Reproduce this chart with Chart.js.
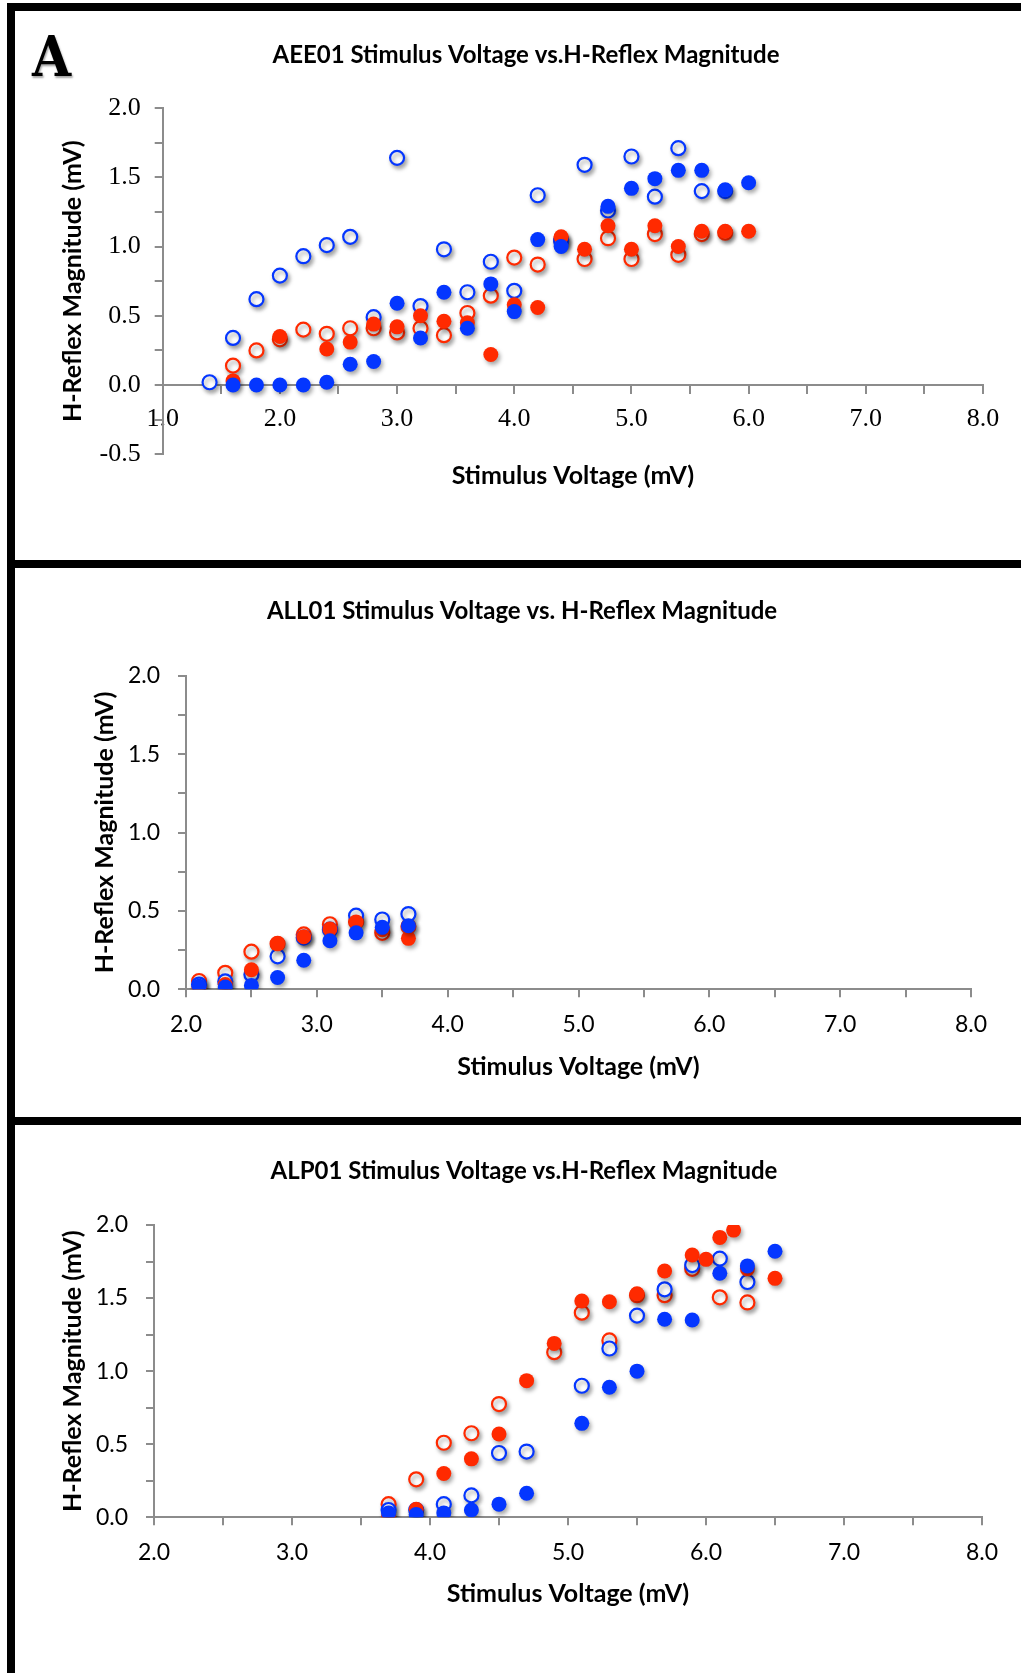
<!DOCTYPE html>
<html>
<head>
<meta charset="utf-8">
<script src="https://cdn.jsdelivr.net/npm/chart.js@4.4.1/dist/chart.umd.min.js"></script>
<style>
  html, body { margin: 0; padding: 0; background: #fff; }
  body { width: 1021px; height: 1673px; position: relative; overflow: hidden; }
  .bar { position: absolute; background: #000; }
  canvas { position: absolute; left: 0; }
  #letter {
    position: absolute; left: 32px; top: 28px;
    font-family: "DejaVu Serif Condensed", "DejaVu Serif", serif;
    font-weight: bold; font-size: 56px; line-height: 1;
    transform: scaleX(1.0); transform-origin: left top;
    text-shadow: 1px 2px 2px rgba(0,0,0,0.35);
  }
</style>
</head>
<body>
<canvas id="c1" width="1021" height="560" style="top:0px"></canvas>
<canvas id="c2" width="1021" height="549" style="top:568px"></canvas>
<canvas id="c3" width="1021" height="548" style="top:1125px"></canvas>

<div class="bar" style="left:7px;top:3px;width:1014px;height:8px"></div>
<div class="bar" style="left:7px;top:3px;width:8px;height:1670px"></div>
<div class="bar" style="left:7px;top:560px;width:1014px;height:8px"></div>
<div class="bar" style="left:7px;top:1117px;width:1014px;height:8px"></div>
<div id="letter">A</div>

<script>
// ===== DATA =====
// AEE01
const aeeBlueFilledX = [1.6, 1.8, 2.0, 2.2, 2.4, 2.6, 2.8, 3.0, 3.2, 3.4, 3.6, 3.8, 4.0, 4.2, 4.4, 4.8, 5.0, 5.2, 5.4, 5.6, 5.8, 6.0];
const aeeBlueFilledY = [0.0, 0.0, 0.0, 0.0, 0.02, 0.15, 0.17, 0.59, 0.34, 0.67, 0.41, 0.73, 0.53, 1.05, 1.0, 1.29, 1.42, 1.49, 1.55, 1.55, 1.41, 1.46];
const aeeBlueOpenX = [1.4, 1.6, 1.8, 2.0, 2.2, 2.4, 2.6, 2.8, 3.0, 3.2, 3.4, 3.6, 3.8, 4.0, 4.2, 4.4, 4.6, 4.8, 5.0, 5.2, 5.4, 5.6, 5.8];
const aeeBlueOpenY = [0.02, 0.34, 0.62, 0.79, 0.93, 1.01, 1.07, 0.49, 1.64, 0.57, 0.98, 0.67, 0.89, 0.68, 1.37, 1.04, 1.59, 1.26, 1.65, 1.36, 1.71, 1.4, 1.4];
const aeeRedFilledX = [1.6, 2.0, 2.4, 2.6, 2.8, 3.0, 3.2, 3.4, 3.6, 3.8, 4.0, 4.2, 4.4, 4.6, 4.8, 5.0, 5.2, 5.4, 5.6, 5.8, 6.0];
const aeeRedFilledY = [0.03, 0.35, 0.26, 0.31, 0.44, 0.42, 0.5, 0.46, 0.45, 0.22, 0.58, 0.56, 1.07, 0.98, 1.15, 0.98, 1.15, 1.0, 1.11, 1.11, 1.11];
const aeeRedOpenX = [1.6, 1.8, 2.0, 2.2, 2.4, 2.6, 2.8, 3.0, 3.2, 3.4, 3.6, 3.8, 4.0, 4.2, 4.4, 4.6, 4.8, 5.0, 5.2, 5.4, 5.6, 5.8];
const aeeRedOpenY = [0.14, 0.25, 0.33, 0.4, 0.37, 0.41, 0.41, 0.38, 0.41, 0.36, 0.52, 0.645, 0.92, 0.87, 1.05, 0.91, 1.06, 0.91, 1.09, 0.94, 1.09, 1.1];

// ALL01
const allX = [2.1, 2.3, 2.5, 2.7, 2.9, 3.1, 3.3, 3.5, 3.7];
const allRedFilledY = [0.01, 0.03, 0.125, 0.29, 0.335, 0.385, 0.43, 0.38, 0.325];
const allRedOpenY = [0.053, 0.105, 0.24, 0.29, 0.35, 0.415, 0.43, 0.36, 0.4];
const allBlueOpenY = [0.03, 0.05, 0.095, 0.21, 0.33, 0.38, 0.47, 0.445, 0.48];
const allBlueFilledY = [0.02, 0.015, 0.025, 0.075, 0.185, 0.31, 0.36, 0.395, 0.405];

// ALP01
const alpRedFilledX = [3.7, 3.9, 4.1, 4.3, 4.5, 4.7, 4.9, 5.1, 5.3, 5.5, 5.7, 5.9, 6.0, 6.1, 6.2, 6.3, 6.5];
const alpRedFilledY = [0.005, 0.055, 0.3, 0.4, 0.57, 0.935, 1.19, 1.48, 1.475, 1.53, 1.685, 1.795, 1.765, 1.915, 1.965, 1.7, 1.635];
const alpRedOpenX = [3.7, 3.9, 4.1, 4.3, 4.5, 4.9, 5.1, 5.3, 5.5, 5.7, 5.9, 6.1, 6.3];
const alpRedOpenY = [0.09, 0.26, 0.51, 0.575, 0.775, 1.13, 1.4, 1.21, 1.52, 1.52, 1.7, 1.505, 1.47];
const alpBlueOpenX = [3.7, 3.9, 4.1, 4.3, 4.5, 4.7, 5.1, 5.3, 5.5, 5.7, 5.9, 6.1, 6.3];
const alpBlueOpenY = [0.05, 0.05, 0.09, 0.15, 0.44, 0.45, 0.9, 1.155, 1.38, 1.56, 1.726, 1.77, 1.61];
const alpBlueFilledX = [3.7, 3.9, 4.1, 4.3, 4.5, 4.7, 5.1, 5.3, 5.5, 5.7, 5.9, 6.1, 6.3, 6.5];
const alpBlueFilledY = [0.03, 0.02, 0.03, 0.05, 0.09, 0.165, 0.643, 0.89, 1.0, 1.355, 1.35, 1.67, 1.72, 1.82];

const titles = [
  "AEE01 Stimulus Voltage vs.H-Reflex Magnitude",
  "ALL01 Stimulus Voltage vs. H-Reflex Magnitude",
  "ALP01 Stimulus Voltage vs.H-Reflex Magnitude",
];
const xTitle = "Stimulus Voltage (mV)";
const yTitle = "H-Reflex Magnitude (mV)";

// ===== STYLE =====
const RED = "#ff2a00";
const BLUE = "#0436ff";
const AXIS = "#8c8c8c";
const SANS = "Lato, 'Open Sans', sans-serif";
const SERIF = "'Liberation Serif', 'DejaVu Serif', serif";
const HEAD_SIZE = 24;   // chart titles
const AXT_SIZE = 25;    // axis titles

function pts(xs, ys) {
  return xs.map((x, i) => ({ x: x, y: ys[i] }));
}

function series(xs, ys, color, open) {
  return {
    data: pts(xs, ys),
    pointRadius: open ? 7 : 7.5,
    pointBorderWidth: open ? 2.2 : 0,
    pointBackgroundColor: open ? "#ffffff" : color,
    pointBorderColor: color,
    showLine: false,
  };
}

const halfLabel = (v) => Math.abs(v * 2 - Math.round(v * 2)) < 1e-6;
const wholeLabel = (v) => Math.abs(v - Math.round(v)) < 1e-6;

// drop shadow under the markers
const shadowPlugin = {
  id: "markerShadow",
  beforeDatasetsDraw(chart) {
    const c = chart.ctx;
    c.save();
    c.shadowColor = "rgba(0,0,0,0.35)";
    c.shadowBlur = 4;
    c.shadowOffsetX = 2;
    c.shadowOffsetY = 3;
  },
  afterDatasetsDraw(chart) {
    chart.ctx.restore();
  },
};

function makeChart(id, p) {
  const headFont = { family: SANS, weight: "bold", size: HEAD_SIZE };
  const axFont = { family: SANS, weight: "bold", size: AXT_SIZE };
  const hh = HEAD_SIZE * 1.2;
  const ah = AXT_SIZE * 1.2;
  return new Chart(document.getElementById(id), {
    type: "scatter",
    data: { datasets: p.datasets },
    options: {
      responsive: false,
      animation: false,
      events: [],
      layout: { padding: { left: p.padLeft, top: 0, right: 0, bottom: p.padBottom } },
      plugins: {
        legend: { display: false },
        tooltip: { enabled: false },
        title: {
          display: true,
          text: p.title,
          color: "#000",
          font: headFont,
          padding: { top: p.titleCenter - hh / 2, bottom: p.plotTop - p.titleCenter - hh / 2 },
        },
      },
      scales: {
        x: {
          type: "linear",
          position: p.xPos,
          min: p.xMin,
          max: 8,
          ticks: {
            stepSize: 0.5,
            autoSkip: false,
            maxRotation: 0,
            minRotation: 0,
            padding: p.xTickPad,
            color: "#000",
            font: p.tickFont,
            callback: (v) => (wholeLabel(v) ? v.toFixed(1) : ""),
          },
          grid: { drawOnChartArea: false, drawTicks: true, tickLength: 8, color: AXIS, lineWidth: 2 },
          border: { display: true, color: AXIS, width: 2 },
          title: {
            display: true,
            text: xTitle,
            color: "#000",
            font: axFont,
            padding: { top: 0, bottom: p.xTitleOffset - ah / 2 },
          },
          afterFit(s) {
            s.height = p.xHeight;
            s.paddingLeft = 0;
            s.paddingRight = p.rightGap;
          },
        },
        y: {
          type: "linear",
          position: "left",
          min: p.yMin,
          max: 2,
          ticks: {
            stepSize: 0.25,
            autoSkip: false,
            padding: p.yTickPad,
            color: "#000",
            font: p.tickFont,
            callback: (v) => (halfLabel(v) ? v.toFixed(1) : ""),
          },
          grid: { drawOnChartArea: false, drawTicks: true, tickLength: 8, color: AXIS, lineWidth: 2 },
          border: { display: true, color: AXIS, width: 2 },
          title: {
            display: true,
            text: yTitle,
            color: "#000",
            font: axFont,
            padding: { top: p.yTitleOffset - ah / 2, bottom: 0 },
          },
          afterFit(s) {
            s.width = p.yWidth;
            s.paddingTop = 0;
            s.paddingBottom = 0;
          },
        },
      },
    },
    plugins: [shadowPlugin],
  });
}

// ===== PANEL A: AEE01 =====
makeChart("c1", {
  title: titles[0],
  datasets: [
    series(aeeBlueFilledX, aeeBlueFilledY, BLUE, false),
    series(aeeRedFilledX, aeeRedFilledY, RED, false),
    series(aeeBlueOpenX, aeeBlueOpenY, BLUE, true),
    series(aeeRedOpenX, aeeRedOpenY, RED, true),
  ],
  padLeft: 31,
  padBottom: 105.7,
  titleCenter: 55.5,
  plotTop: 108,
  xPos: { y: 0 },
  xMin: 1,
  yMin: -0.5,
  tickFont: { family: SERIF, size: 26 },
  xTickPad: 11,
  xHeight: 120,
  xTitleOffset: 28.7,
  rightGap: 38,
  yWidth: 131.7,
  yTickPad: 14,
  yTitleOffset: 41.5,
});

// ===== ALL01 =====
makeChart("c2", {
  title: titles[1],
  datasets: [
    series(allX, allBlueFilledY, BLUE, false),
    series(allX, allRedFilledY, RED, false),
    series(allX, allBlueOpenY, BLUE, true),
    series(allX, allRedOpenY, RED, true),
  ],
  padLeft: 23,
  padBottom: 0,
  titleCenter: 43,
  plotTop: 107.7,
  xPos: "bottom",
  xMin: 2,
  yMin: 0,
  tickFont: { family: SANS, size: 23 },
  xTickPad: 13,
  xHeight: 127.7,
  xTitleOffset: 50,
  rightGap: 50,
  yWidth: 163,
  yTickPad: 18,
  yTitleOffset: 81.5,
});

// ===== ALP01 =====
makeChart("c3", {
  title: titles[2],
  datasets: [
    series(alpBlueFilledX, alpBlueFilledY, BLUE, false),
    series(alpRedFilledX, alpRedFilledY, RED, false),
    series(alpBlueOpenX, alpBlueOpenY, BLUE, true),
    series(alpRedOpenX, alpRedOpenY, RED, true),
  ],
  padLeft: 27,
  padBottom: 0,
  titleCenter: 46,
  plotTop: 100,
  xPos: "bottom",
  xMin: 2,
  yMin: 0,
  tickFont: { family: SANS, size: 23 },
  xTickPad: 13,
  xHeight: 155.7,
  xTitleOffset: 79,
  rightGap: 39,
  yWidth: 127,
  yTickPad: 18,
  yTitleOffset: 45.5,
});
</script>
</body>
</html>
